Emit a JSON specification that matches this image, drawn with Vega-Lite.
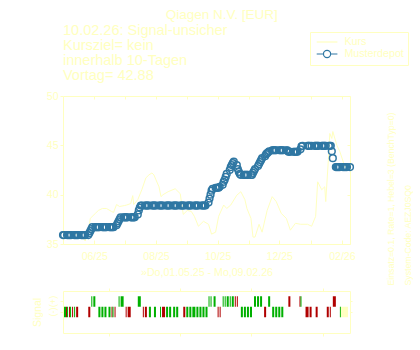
{
  "$schema": "https://vega.github.io/schema/vega-lite/v6.json",
  "background": "white",
  "padding": {"left": 31, "top": 8, "right": 0, "bottom": 0},
  "config": {
    "font": "Liberation Sans",
    "view": {"stroke": "#ffffc0", "strokeWidth": 1},
    "axis": {"labelColor": "#ffffc0", "tickColor": "#ffffc0", "titleColor": "#ffffc0", "domain": false, "grid": false, "labelFontSize": 10.5, "titleFontSize": 10.5, "titleFontWeight": "normal", "labelFont": "Liberation Sans", "titleFont": "Liberation Sans", "tickWidth": 1}
  },
  "title": {"text": "Qiagen N.V. [EUR]", "fontSize": 13.5, "fontWeight": "normal", "color": "#ffffc0", "anchor": "middle", "font": "Liberation Sans", "offset": 1},
  "bounds": "flush",
  "spacing": 47,
  "resolve": {"scale": {"x": "independent", "color": "independent"}, "legend": {"color": "independent"}},
  "datasets": {
    "kurs": [
      {"t": "2025-05-01", "v": 36.0}, {"t": "2025-05-06", "v": 36.3}, {"t": "2025-05-12", "v": 35.9}, {"t": "2025-05-16", "v": 36.1},
      {"t": "2025-05-20", "v": 35.7}, {"t": "2025-05-23", "v": 35.3}, {"t": "2025-05-26", "v": 36.2}, {"t": "2025-05-28", "v": 37.6},
      {"t": "2025-06-02", "v": 38.1}, {"t": "2025-06-05", "v": 38.4}, {"t": "2025-06-09", "v": 38.6}, {"t": "2025-06-13", "v": 38.6},
      {"t": "2025-06-18", "v": 38.3}, {"t": "2025-06-20", "v": 38.2}, {"t": "2025-06-23", "v": 39.0}, {"t": "2025-06-26", "v": 38.8},
      {"t": "2025-07-01", "v": 38.9}, {"t": "2025-07-03", "v": 38.95}, {"t": "2025-07-07", "v": 39.1}, {"t": "2025-07-09", "v": 39.9},
      {"t": "2025-07-10", "v": 39.0}, {"t": "2025-07-14", "v": 39.5}, {"t": "2025-07-18", "v": 40.5}, {"t": "2025-07-22", "v": 41.7},
      {"t": "2025-07-25", "v": 42.0}, {"t": "2025-07-28", "v": 42.2}, {"t": "2025-07-30", "v": 42.0}, {"t": "2025-08-01", "v": 41.5},
      {"t": "2025-08-04", "v": 40.8}, {"t": "2025-08-06", "v": 39.8}, {"t": "2025-08-08", "v": 40.0}, {"t": "2025-08-13", "v": 40.3},
      {"t": "2025-08-20", "v": 40.6}, {"t": "2025-08-25", "v": 40.1}, {"t": "2025-08-28", "v": 38.0}, {"t": "2025-09-01", "v": 38.4},
      {"t": "2025-09-05", "v": 38.3}, {"t": "2025-09-08", "v": 37.8}, {"t": "2025-09-12", "v": 36.8}, {"t": "2025-09-17", "v": 37.3},
      {"t": "2025-09-22", "v": 37.0}, {"t": "2025-09-25", "v": 36.0}, {"t": "2025-09-29", "v": 36.2}, {"t": "2025-10-02", "v": 37.8},
      {"t": "2025-10-07", "v": 38.95}, {"t": "2025-10-10", "v": 38.6}, {"t": "2025-10-14", "v": 38.95}, {"t": "2025-10-20", "v": 39.95},
      {"t": "2025-10-24", "v": 40.3}, {"t": "2025-10-28", "v": 39.5}, {"t": "2025-10-30", "v": 38.6}, {"t": "2025-11-03", "v": 37.6},
      {"t": "2025-11-05", "v": 35.7}, {"t": "2025-11-07", "v": 35.7}, {"t": "2025-11-11", "v": 37.0}, {"t": "2025-11-14", "v": 36.2},
      {"t": "2025-11-19", "v": 38.4}, {"t": "2025-11-24", "v": 39.8}, {"t": "2025-11-28", "v": 39.3}, {"t": "2025-12-03", "v": 38.1},
      {"t": "2025-12-08", "v": 37.6}, {"t": "2025-12-12", "v": 36.4}, {"t": "2025-12-17", "v": 37.1}, {"t": "2025-12-22", "v": 37.0},
      {"t": "2025-12-29", "v": 37.0}, {"t": "2026-01-02", "v": 36.8}, {"t": "2026-01-06", "v": 37.8}, {"t": "2026-01-08", "v": 41.3},
      {"t": "2026-01-12", "v": 40.5}, {"t": "2026-01-15", "v": 40.8}, {"t": "2026-01-16", "v": 39.3}, {"t": "2026-01-19", "v": 44.2},
      {"t": "2026-01-20", "v": 46.2}, {"t": "2026-01-22", "v": 45.7}, {"t": "2026-01-23", "v": 46.4}, {"t": "2026-01-27", "v": 45.0},
      {"t": "2026-01-30", "v": 44.35}, {"t": "2026-02-04", "v": 42.8}, {"t": "2026-02-06", "v": 42.7}
    ],
    "depot": [
      {"t": "2025-05-01", "m": 35.9}, {"t": "2025-05-02", "m": 35.9}, {"t": "2025-05-05", "m": 35.9}, {"t": "2025-05-06", "m": 35.9},
      {"t": "2025-05-07", "m": 35.9}, {"t": "2025-05-08", "m": 35.9}, {"t": "2025-05-09", "m": 35.9}, {"t": "2025-05-12", "m": 35.9},
      {"t": "2025-05-13", "m": 35.9}, {"t": "2025-05-14", "m": 35.9}, {"t": "2025-05-15", "m": 35.9}, {"t": "2025-05-16", "m": 35.9},
      {"t": "2025-05-19", "m": 35.9}, {"t": "2025-05-20", "m": 35.9}, {"t": "2025-05-21", "m": 35.9}, {"t": "2025-05-22", "m": 35.9},
      {"t": "2025-05-23", "m": 35.9}, {"t": "2025-05-26", "m": 35.9}, {"t": "2025-05-27", "m": 36.1}, {"t": "2025-05-28", "m": 36.3},
      {"t": "2025-05-29", "m": 36.5}, {"t": "2025-05-30", "m": 36.7},
      {"t": "2025-06-02", "m": 36.7}, {"t": "2025-06-03", "m": 36.7}, {"t": "2025-06-04", "m": 36.7}, {"t": "2025-06-05", "m": 36.7},
      {"t": "2025-06-06", "m": 36.7}, {"t": "2025-06-09", "m": 36.7}, {"t": "2025-06-10", "m": 36.7}, {"t": "2025-06-11", "m": 36.7},
      {"t": "2025-06-12", "m": 36.7}, {"t": "2025-06-13", "m": 36.7}, {"t": "2025-06-16", "m": 36.7}, {"t": "2025-06-17", "m": 36.7},
      {"t": "2025-06-18", "m": 36.7}, {"t": "2025-06-19", "m": 36.7}, {"t": "2025-06-20", "m": 36.7}, {"t": "2025-06-23", "m": 36.9},
      {"t": "2025-06-24", "m": 37.1}, {"t": "2025-06-25", "m": 37.3}, {"t": "2025-06-26", "m": 37.5}, {"t": "2025-06-27", "m": 37.7},
      {"t": "2025-06-30", "m": 37.7},
      {"t": "2025-07-01", "m": 37.7}, {"t": "2025-07-02", "m": 37.7}, {"t": "2025-07-03", "m": 37.7}, {"t": "2025-07-04", "m": 37.7},
      {"t": "2025-07-07", "m": 37.7}, {"t": "2025-07-08", "m": 37.7}, {"t": "2025-07-09", "m": 37.7}, {"t": "2025-07-10", "m": 37.7},
      {"t": "2025-07-11", "m": 37.7}, {"t": "2025-07-14", "m": 38.0}, {"t": "2025-07-15", "m": 38.4}, {"t": "2025-07-16", "m": 38.7},
      {"t": "2025-07-17", "m": 38.9}, {"t": "2025-07-18", "m": 38.9}, {"t": "2025-07-21", "m": 38.9}, {"t": "2025-07-22", "m": 38.9},
      {"t": "2025-07-23", "m": 38.9}, {"t": "2025-07-24", "m": 38.9}, {"t": "2025-07-25", "m": 38.9}, {"t": "2025-07-28", "m": 38.9},
      {"t": "2025-07-29", "m": 38.9}, {"t": "2025-07-30", "m": 38.9}, {"t": "2025-07-31", "m": 38.9},
      {"t": "2025-08-01", "m": 38.9}, {"t": "2025-08-04", "m": 38.9}, {"t": "2025-08-05", "m": 38.9}, {"t": "2025-08-06", "m": 38.9},
      {"t": "2025-08-07", "m": 38.9}, {"t": "2025-08-08", "m": 38.9}, {"t": "2025-08-11", "m": 38.9}, {"t": "2025-08-12", "m": 38.9},
      {"t": "2025-08-13", "m": 38.9}, {"t": "2025-08-14", "m": 38.9}, {"t": "2025-08-15", "m": 38.9}, {"t": "2025-08-18", "m": 38.9},
      {"t": "2025-08-19", "m": 38.9}, {"t": "2025-08-20", "m": 38.9}, {"t": "2025-08-21", "m": 38.9}, {"t": "2025-08-22", "m": 38.9},
      {"t": "2025-08-25", "m": 38.9}, {"t": "2025-08-26", "m": 38.9}, {"t": "2025-08-27", "m": 38.9}, {"t": "2025-08-28", "m": 38.9},
      {"t": "2025-08-29", "m": 38.9},
      {"t": "2025-09-01", "m": 38.9}, {"t": "2025-09-02", "m": 38.9}, {"t": "2025-09-03", "m": 38.9}, {"t": "2025-09-04", "m": 38.9},
      {"t": "2025-09-05", "m": 38.9}, {"t": "2025-09-08", "m": 38.9}, {"t": "2025-09-09", "m": 38.9}, {"t": "2025-09-10", "m": 38.9},
      {"t": "2025-09-11", "m": 38.9}, {"t": "2025-09-12", "m": 38.9}, {"t": "2025-09-15", "m": 38.9}, {"t": "2025-09-16", "m": 38.9},
      {"t": "2025-09-17", "m": 38.9}, {"t": "2025-09-18", "m": 38.9}, {"t": "2025-09-19", "m": 38.9}, {"t": "2025-09-22", "m": 39.2},
      {"t": "2025-09-23", "m": 39.6}, {"t": "2025-09-24", "m": 40.0}, {"t": "2025-09-25", "m": 40.4}, {"t": "2025-09-26", "m": 40.6},
      {"t": "2025-09-29", "m": 40.7}, {"t": "2025-09-30", "m": 40.7},
      {"t": "2025-10-01", "m": 40.7}, {"t": "2025-10-02", "m": 40.7}, {"t": "2025-10-03", "m": 40.8}, {"t": "2025-10-06", "m": 41.0},
      {"t": "2025-10-07", "m": 41.3}, {"t": "2025-10-08", "m": 41.5}, {"t": "2025-10-09", "m": 41.8}, {"t": "2025-10-10", "m": 42.1},
      {"t": "2025-10-13", "m": 42.5}, {"t": "2025-10-14", "m": 42.8}, {"t": "2025-10-15", "m": 43.0}, {"t": "2025-10-16", "m": 43.2},
      {"t": "2025-10-17", "m": 43.35}, {"t": "2025-10-20", "m": 43.0}, {"t": "2025-10-21", "m": 42.6}, {"t": "2025-10-22", "m": 42.3},
      {"t": "2025-10-23", "m": 42.1}, {"t": "2025-10-24", "m": 42.0}, {"t": "2025-10-27", "m": 42.0}, {"t": "2025-10-28", "m": 42.0},
      {"t": "2025-10-29", "m": 42.0}, {"t": "2025-10-30", "m": 42.0}, {"t": "2025-10-31", "m": 42.0},
      {"t": "2025-11-03", "m": 42.0}, {"t": "2025-11-04", "m": 42.0}, {"t": "2025-11-05", "m": 42.2}, {"t": "2025-11-06", "m": 42.4},
      {"t": "2025-11-07", "m": 42.6}, {"t": "2025-11-10", "m": 42.9}, {"t": "2025-11-11", "m": 43.1}, {"t": "2025-11-12", "m": 43.3},
      {"t": "2025-11-13", "m": 43.5}, {"t": "2025-11-14", "m": 43.7}, {"t": "2025-11-17", "m": 43.9}, {"t": "2025-11-18", "m": 44.1},
      {"t": "2025-11-19", "m": 44.2}, {"t": "2025-11-20", "m": 44.3}, {"t": "2025-11-21", "m": 44.4}, {"t": "2025-11-24", "m": 44.5},
      {"t": "2025-11-25", "m": 44.5}, {"t": "2025-11-26", "m": 44.5}, {"t": "2025-11-27", "m": 44.5}, {"t": "2025-11-28", "m": 44.5},
      {"t": "2025-12-01", "m": 44.5}, {"t": "2025-12-02", "m": 44.5}, {"t": "2025-12-03", "m": 44.5}, {"t": "2025-12-04", "m": 44.5},
      {"t": "2025-12-05", "m": 44.5}, {"t": "2025-12-08", "m": 44.5}, {"t": "2025-12-09", "m": 44.5}, {"t": "2025-12-10", "m": 44.35},
      {"t": "2025-12-11", "m": 44.35}, {"t": "2025-12-12", "m": 44.35}, {"t": "2025-12-15", "m": 44.35}, {"t": "2025-12-16", "m": 44.35},
      {"t": "2025-12-17", "m": 44.35}, {"t": "2025-12-18", "m": 44.35}, {"t": "2025-12-19", "m": 44.35}, {"t": "2025-12-22", "m": 44.6},
      {"t": "2025-12-23", "m": 44.9}, {"t": "2025-12-24", "m": 44.95}, {"t": "2025-12-29", "m": 44.95}, {"t": "2025-12-30", "m": 44.95},
      {"t": "2025-12-31", "m": 44.95},
      {"t": "2026-01-02", "m": 44.95}, {"t": "2026-01-05", "m": 44.95}, {"t": "2026-01-06", "m": 44.95}, {"t": "2026-01-07", "m": 44.95},
      {"t": "2026-01-08", "m": 44.95}, {"t": "2026-01-09", "m": 44.95}, {"t": "2026-01-12", "m": 44.95}, {"t": "2026-01-13", "m": 44.95},
      {"t": "2026-01-14", "m": 44.95}, {"t": "2026-01-15", "m": 44.95}, {"t": "2026-01-16", "m": 44.95}, {"t": "2026-01-19", "m": 44.95},
      {"t": "2026-01-20", "m": 44.95}, {"t": "2026-01-21", "m": 44.95}, {"t": "2026-01-22", "m": 44.4}, {"t": "2026-01-23", "m": 43.7},
      {"t": "2026-01-26", "m": 42.8}, {"t": "2026-01-27", "m": 42.8}, {"t": "2026-01-28", "m": 42.8}, {"t": "2026-01-29", "m": 42.8},
      {"t": "2026-01-30", "m": 42.8}, {"t": "2026-02-02", "m": 42.8}, {"t": "2026-02-03", "m": 42.8}, {"t": "2026-02-04", "m": 42.8},
      {"t": "2026-02-05", "m": 42.8}, {"t": "2026-02-06", "m": 42.8}, {"t": "2026-02-09", "m": 42.8}
    ],
    "sig": [
      {"s": "2025-05-02", "e": "2025-05-04", "lvl": "(-)", "typ": "buy"},
      {"s": "2025-05-04", "e": "2025-05-05", "lvl": "(-)", "typ": "sell"},
      {"s": "2025-05-05", "e": "2025-05-06", "lvl": "(-)", "typ": "buy"},
      {"s": "2025-05-07", "e": "2025-05-08", "lvl": "(-)", "typ": "sell"},
      {"s": "2025-05-08", "e": "2025-05-09", "lvl": "(-)", "typ": "buy"},
      {"s": "2025-05-10", "e": "2025-05-11", "lvl": "(-)", "typ": "sell"},
      {"s": "2025-05-12", "e": "2025-05-13", "lvl": "(-)", "typ": "buy"},
      {"s": "2025-05-14", "e": "2025-05-16", "lvl": "(-)", "typ": "sell"},
      {"s": "2025-05-26", "e": "2025-05-28", "lvl": "(-)", "typ": "sell"},
      {"s": "2025-06-05", "e": "2025-06-07", "lvl": "(-)", "typ": "buy"},
      {"s": "2025-06-08", "e": "2025-06-10", "lvl": "(-)", "typ": "buy"},
      {"s": "2025-06-11", "e": "2025-06-13", "lvl": "(-)", "typ": "buy"},
      {"s": "2025-06-15", "e": "2025-06-17", "lvl": "(-)", "typ": "buy"},
      {"s": "2025-06-18", "e": "2025-06-19", "lvl": "(-)", "typ": "sell"},
      {"s": "2025-06-19", "e": "2025-06-20", "lvl": "(-)", "typ": "buy"},
      {"s": "2025-06-21", "e": "2025-06-22", "lvl": "(-)", "typ": "sell"},
      {"s": "2025-07-02", "e": "2025-07-03", "lvl": "(-)", "typ": "sell"},
      {"s": "2025-07-04", "e": "2025-07-07", "lvl": "(-)", "typ": "sell"},
      {"s": "2025-07-19", "e": "2025-07-20", "lvl": "(-)", "typ": "sell"},
      {"s": "2025-07-21", "e": "2025-07-23", "lvl": "(-)", "typ": "sell"},
      {"s": "2025-07-25", "e": "2025-07-27", "lvl": "(-)", "typ": "buy"},
      {"s": "2025-07-30", "e": "2025-08-01", "lvl": "(-)", "typ": "buy"},
      {"s": "2025-08-05", "e": "2025-08-06", "lvl": "(-)", "typ": "buy"},
      {"s": "2025-08-07", "e": "2025-08-10", "lvl": "(-)", "typ": "sell"},
      {"s": "2025-08-11", "e": "2025-08-13", "lvl": "(-)", "typ": "buy"},
      {"s": "2025-08-14", "e": "2025-08-16", "lvl": "(-)", "typ": "buy"},
      {"s": "2025-08-18", "e": "2025-08-20", "lvl": "(-)", "typ": "buy"},
      {"s": "2025-08-21", "e": "2025-08-23", "lvl": "(-)", "typ": "buy"},
      {"s": "2025-08-28", "e": "2025-08-30", "lvl": "(-)", "typ": "sell"},
      {"s": "2025-08-31", "e": "2025-09-02", "lvl": "(-)", "typ": "buy"},
      {"s": "2025-09-03", "e": "2025-09-05", "lvl": "(-)", "typ": "buy"},
      {"s": "2025-09-06", "e": "2025-09-09", "lvl": "(-)", "typ": "buy"},
      {"s": "2025-09-10", "e": "2025-09-12", "lvl": "(-)", "typ": "buy"},
      {"s": "2025-09-13", "e": "2025-09-15", "lvl": "(-)", "typ": "buy"},
      {"s": "2025-09-16", "e": "2025-09-18", "lvl": "(-)", "typ": "buy"},
      {"s": "2025-09-19", "e": "2025-09-21", "lvl": "(-)", "typ": "buy"},
      {"s": "2025-10-01", "e": "2025-10-02", "lvl": "(-)", "typ": "sell"},
      {"s": "2025-10-03", "e": "2025-10-04", "lvl": "(-)", "typ": "sell"},
      {"s": "2025-10-24", "e": "2025-10-26", "lvl": "(-)", "typ": "buy"},
      {"s": "2025-10-27", "e": "2025-10-29", "lvl": "(-)", "typ": "buy"},
      {"s": "2025-10-30", "e": "2025-11-01", "lvl": "(-)", "typ": "buy"},
      {"s": "2025-11-02", "e": "2025-11-04", "lvl": "(-)", "typ": "buy"},
      {"s": "2025-11-16", "e": "2025-11-18", "lvl": "(-)", "typ": "sell"},
      {"s": "2025-11-24", "e": "2025-11-26", "lvl": "(-)", "typ": "buy"},
      {"s": "2025-11-27", "e": "2025-11-29", "lvl": "(-)", "typ": "buy"},
      {"s": "2025-11-30", "e": "2025-12-02", "lvl": "(-)", "typ": "buy"},
      {"s": "2025-12-03", "e": "2025-12-05", "lvl": "(-)", "typ": "buy"},
      {"s": "2025-12-27", "e": "2025-12-30", "lvl": "(-)", "typ": "sell"},
      {"s": "2025-12-31", "e": "2026-01-02", "lvl": "(-)", "typ": "sell"},
      {"s": "2026-01-06", "e": "2026-01-08", "lvl": "(-)", "typ": "sell"},
      {"s": "2026-01-17", "e": "2026-01-19", "lvl": "(-)", "typ": "sell"},
      {"s": "2026-01-20", "e": "2026-01-21", "lvl": "(-)", "typ": "sell"},
      {"s": "2026-01-30", "e": "2026-01-31", "lvl": "(-)", "typ": "buy"},
      {"s": "2026-01-31", "e": "2026-02-02", "lvl": "(-)", "typ": "neutral"},
      {"s": "2026-02-02", "e": "2026-02-04", "lvl": "(-)", "typ": "neutral"},
      {"s": "2026-02-04", "e": "2026-02-07", "lvl": "(-)", "typ": "neutral"},
      {"s": "2025-05-29", "e": "2025-05-30", "lvl": "(+)", "typ": "buy"},
      {"s": "2025-05-31", "e": "2025-06-02", "lvl": "(+)", "typ": "buy"},
      {"s": "2025-06-25", "e": "2025-06-26", "lvl": "(+)", "typ": "buy"},
      {"s": "2025-06-27", "e": "2025-06-30", "lvl": "(+)", "typ": "buy"},
      {"s": "2025-07-14", "e": "2025-07-17", "lvl": "(+)", "typ": "buy"},
      {"s": "2025-09-22", "e": "2025-09-23", "lvl": "(+)", "typ": "buy"},
      {"s": "2025-09-24", "e": "2025-09-25", "lvl": "(+)", "typ": "buy"},
      {"s": "2025-09-27", "e": "2025-09-29", "lvl": "(+)", "typ": "buy"},
      {"s": "2025-10-06", "e": "2025-10-07", "lvl": "(+)", "typ": "buy"},
      {"s": "2025-10-08", "e": "2025-10-09", "lvl": "(+)", "typ": "buy"},
      {"s": "2025-10-10", "e": "2025-10-12", "lvl": "(+)", "typ": "buy"},
      {"s": "2025-10-13", "e": "2025-10-14", "lvl": "(+)", "typ": "buy"},
      {"s": "2025-10-15", "e": "2025-10-17", "lvl": "(+)", "typ": "buy"},
      {"s": "2025-10-18", "e": "2025-10-19", "lvl": "(+)", "typ": "sell"},
      {"s": "2025-10-20", "e": "2025-10-21", "lvl": "(+)", "typ": "sell"},
      {"s": "2025-11-06", "e": "2025-11-08", "lvl": "(+)", "typ": "buy"},
      {"s": "2025-11-09", "e": "2025-11-11", "lvl": "(+)", "typ": "buy"},
      {"s": "2025-11-12", "e": "2025-11-14", "lvl": "(+)", "typ": "buy"},
      {"s": "2025-11-20", "e": "2025-11-22", "lvl": "(+)", "typ": "buy"},
      {"s": "2025-12-10", "e": "2025-12-12", "lvl": "(+)", "typ": "sell"},
      {"s": "2025-12-21", "e": "2025-12-22", "lvl": "(+)", "typ": "sell"},
      {"s": "2025-12-22", "e": "2025-12-23", "lvl": "(+)", "typ": "buy"},
      {"s": "2026-01-23", "e": "2026-01-26", "lvl": "(+)", "typ": "sell"}
    ]
  },
  "vconcat": [
    {
      "width": 287,
      "height": 148,
      "title": {"text": ["10.02.26: Signal-unsicher", "Kursziel= kein", "innerhalb 10-Tagen", "Vortag= 42.88"], "anchor": "start", "frame": "group", "fontSize": 14.5, "lineHeight": 15, "fontWeight": "normal", "color": "#ffffc0", "font": "Liberation Sans", "offset": -52},
      "layer": [
        {
          "data": {"name": "kurs", "format": {"parse": {"t": "date:'%Y-%m-%d'"}}},
          "mark": {"type": "line", "strokeWidth": 1},
          "encoding": {
            "x": {"field": "t", "type": "temporal",
              "scale": {"domain": [{"year": 2025, "month": 5, "date": 1}, {"year": 2026, "month": 2, "date": 9}], "nice": false},
              "axis": {"orient": "bottom", "values": [{"year": 2025, "month": 6, "date": 1}, {"year": 2025, "month": 7, "date": 1}, {"year": 2025, "month": 8, "date": 1}, {"year": 2025, "month": 9, "date": 1}, {"year": 2025, "month": 10, "date": 1}, {"year": 2025, "month": 11, "date": 1}, {"year": 2025, "month": 12, "date": 1}, {"year": 2026, "month": 1, "date": 1}, {"year": 2026, "month": 2, "date": 1}],
                "labelExpr": "month(datum.value) % 2 == 1 ? timeFormat(datum.value, '%m/%y') : ''", "tickSize": -4, "labelPadding": 11, "labelFlush": false, "titlePadding": 6, "titleFontSize": 10.6},
              "title": "»Do,01.05.25 - Mo,09.02.26"},
            "y": {"field": "v", "type": "quantitative", "scale": {"domain": [35, 50], "nice": false, "zero": false},
              "axis": {"orient": "left", "values": [35, 40, 45, 50], "tickSize": 3, "labelPadding": 2, "title": null}},
            "color": {"datum": "Kurs", "type": "nominal",
              "scale": {"domain": ["Kurs", "Musterdepot"], "range": ["#ffffc0", "#2f77a3"]},
              "legend": {"orient": "none", "legendX": 247, "legendY": -64, "title": null, "strokeColor": "#ffffc0", "padding": 4, "labelColor": "#ffffc0", "labelFontSize": 10.7, "labelFont": "Liberation Sans", "symbolSize": 100, "labelOffset": 18.4, "rowPadding": 0, "symbolStrokeWidth": 1.2,
                "encoding": {"symbols": {
                  "shape": {"value": {"expr": "datum.value === 'Kurs' ? 'M-0.66,0L3.48,0' : 'M-0.66,0L0.69,0M2.13,0L3.48,0M0.69,0A0.72,0.72,0,1,1,2.13,0A0.72,0.72,0,1,1,0.69,0'"}},
                  "fill": {"value": "transparent"},
                  "stroke": {"value": {"expr": "datum.value === 'Kurs' ? '#ffffc0' : '#2f77a3'"}}
                }}}}
          }
        },
        {
          "data": {"name": "depot", "format": {"parse": {"t": "date:'%Y-%m-%d'"}}},
          "mark": {"type": "point", "shape": "circle", "filled": false, "size": 45, "strokeWidth": 1.5, "opacity": 1},
          "encoding": {
            "x": {"field": "t", "type": "temporal",
              "axis": {"orient": "top", "values": [{"year": 2025, "month": 6, "date": 1}, {"year": 2025, "month": 7, "date": 1}, {"year": 2025, "month": 8, "date": 1}, {"year": 2025, "month": 9, "date": 1}, {"year": 2025, "month": 10, "date": 1}, {"year": 2025, "month": 11, "date": 1}, {"year": 2025, "month": 12, "date": 1}, {"year": 2026, "month": 1, "date": 1}, {"year": 2026, "month": 2, "date": 1}], "labels": false, "tickSize": -3, "title": null}},
            "y": {"field": "m", "type": "quantitative",
              "axis": {"orient": "right", "values": [35, 40, 45, 50], "labels": false, "tickSize": -3,
                "title": ["Einsatz=0.1, Rate=1, Hebel=3 (BenchTyp=0)", "System-Code: AEZJ0SQ0"],
                "titleAngle": 270, "titleAlign": "left", "titleBaseline": "middle", "titleX": 40, "titleY": 189, "titleLineHeight": 17, "titleFontSize": 8.7}},
            "color": {"datum": "Musterdepot", "type": "nominal"}
          }
        }
      ]
    },
    {
      "width": 287,
      "height": 42,
      "data": {"name": "sig", "format": {"parse": {"s": "date:'%Y-%m-%d'", "e": "date:'%Y-%m-%d'"}}},
      "layer": [
        {
          "mark": {"type": "rect"},
          "encoding": {
            "x": {"field": "s", "type": "temporal",
              "scale": {"domain": [{"year": 2025, "month": 5, "date": 1}, {"year": 2026, "month": 2, "date": 9}], "nice": false},
              "axis": {"orient": "bottom", "values": [{"year": 2025, "month": 6, "date": 16}, {"year": 2025, "month": 8, "date": 25}, {"year": 2025, "month": 11, "date": 3}, {"year": 2026, "month": 1, "date": 13}], "labels": false, "tickSize": 3, "title": null}},
            "x2": {"field": "e"},
            "y": {"field": "lvl", "type": "nominal", "scale": {"domain": ["(+)", "(-)", "."], "paddingInner": 0, "paddingOuter": 0.5},
              "axis": {"orient": "left", "values": ["(+)", "(-)"], "labelAngle": 270, "labelFontSize": 9, "tickSize": 3, "labelPadding": 3, "title": "Signal", "titlePadding": 6}},
            "color": {"field": "typ", "type": "nominal", "scale": {"domain": ["buy", "sell", "neutral"], "range": ["#00b000", "#b00000", "#ffffc0"]}, "legend": null}
          }
        },
        {
          "mark": {"type": "rect", "opacity": 0},
          "encoding": {
            "x": {"field": "s", "type": "temporal",
              "axis": {"orient": "top", "values": [{"year": 2025, "month": 6, "date": 16}, {"year": 2025, "month": 8, "date": 25}, {"year": 2025, "month": 11, "date": 3}, {"year": 2026, "month": 1, "date": 13}], "labels": false, "tickSize": 3, "title": null}},
            "x2": {"field": "e"},
            "y": {"field": "lvl", "type": "nominal", "axis": {"orient": "right", "values": ["(+)", "(-)"], "labels": false, "tickSize": 2, "title": null}}
          }
        }
      ]
    }
  ]
}
